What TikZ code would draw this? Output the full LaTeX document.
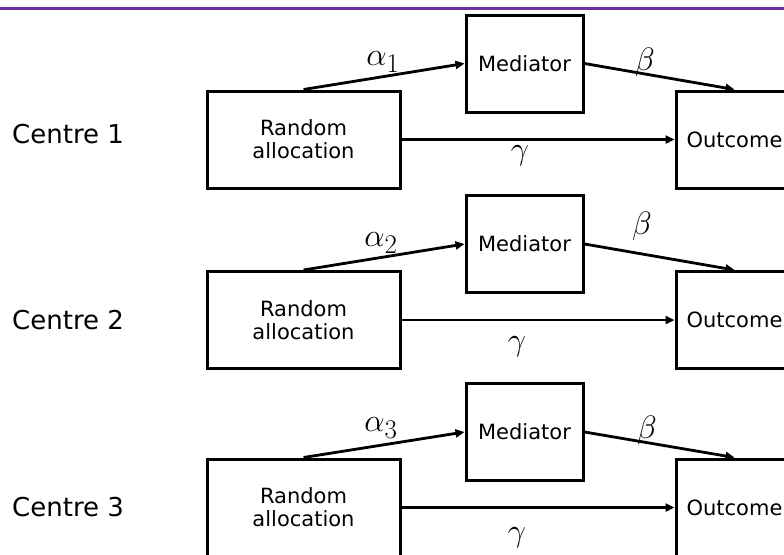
\documentclass[tikz,border=0pt]{standalone}
\usepackage{fontspec}
\setmainfont{DejaVu Sans}
\usetikzlibrary{arrows.meta}
\definecolor{topline}{RGB}{112,48,160}
\newcommand{\glyph}[1]{\scalebox{1.3}{$#1$}}
\begin{document}
\begin{tikzpicture}[x=1pt,y=-1pt,
  box/.style={draw, line width=3pt, inner sep=0pt, align=center, font=\fontsize{21}{23}\selectfont},
  rabox/.style={box, minimum width=193pt, minimum height=97pt},
  medbox/.style={box, minimum width=117pt, minimum height=97pt},
  arr/.style={line width=2.8pt, -{Triangle[length=9pt,width=8pt]}},
  glabel/.style={inner sep=0pt, font=\fontsize{24.88}{28}\selectfont},
  clabel/.style={inner sep=0pt, anchor=west, font=\fontsize{26}{30}\selectfont}]
\useasboundingbox (0,0) rectangle (784,554);
\clip (0,0) rectangle (784,554);
\fill[white] (0,0) rectangle (784,554);
\draw[topline, line width=3.5pt] (0,8.5) -- (784,8.5);

% Centre 1
\node[clabel] (c1) at (12,134) {Centre 1};
\node[rabox] (ra1) at (303.5,139.5) {Random\\allocation};
\node[medbox] (med1) at (524.5,63.5) {Mediator};
\node[medbox] (out1) at (734.5,139.5) {Outcome};
\draw[arr] (ra1.north) -- (med1.west);
\draw[arr] (med1.east) -- (out1.north);
\draw[arr] (ra1.east) -- (out1.west);
\node[glabel] (a1) at (383,62) {\glyph{\alpha_1}};
\node[glabel] (b1) at (645,62) {\glyph{\beta}};
\node[glabel] (g1) at (520,156) {\glyph{\gamma}};

% Centre 2
\node[clabel] (c2) at (12,320) {Centre 2};
\node[rabox] (ra2) at (303.5,320) {Random\\allocation};
\node[medbox] (med2) at (524.5,244) {Mediator};
\node[medbox] (out2) at (734.5,320) {Outcome};
\draw[arr] (ra2.north) -- (med2.west);
\draw[arr] (med2.east) -- (out2.north);
\draw[arr] (ra2.east) -- (out2.west);
\node[glabel] (a2) at (381,243) {\glyph{\alpha_2}};
\node[glabel] (b2) at (642,226) {\glyph{\beta}};
\node[glabel] (g2) at (517,347) {\glyph{\gamma}};

% Centre 3
\node[clabel] (c3) at (12,507) {Centre 3};
\node[rabox] (ra3) at (303.5,507.5) {Random\\allocation};
\node[medbox] (med3) at (524.5,432) {Mediator};
\node[medbox] (out3) at (734.5,507.5) {Outcome};
\draw[arr] (ra3.north) -- (med3.west);
\draw[arr] (med3.east) -- (out3.north);
\draw[arr] (ra3.east) -- (out3.west);
\node[glabel] (a3) at (381,428) {\glyph{\alpha_3}};
\node[glabel] (b3) at (647,430) {\glyph{\beta}};
\node[glabel] (g3) at (517,538) {\glyph{\gamma}};
\end{tikzpicture}
\end{document}
